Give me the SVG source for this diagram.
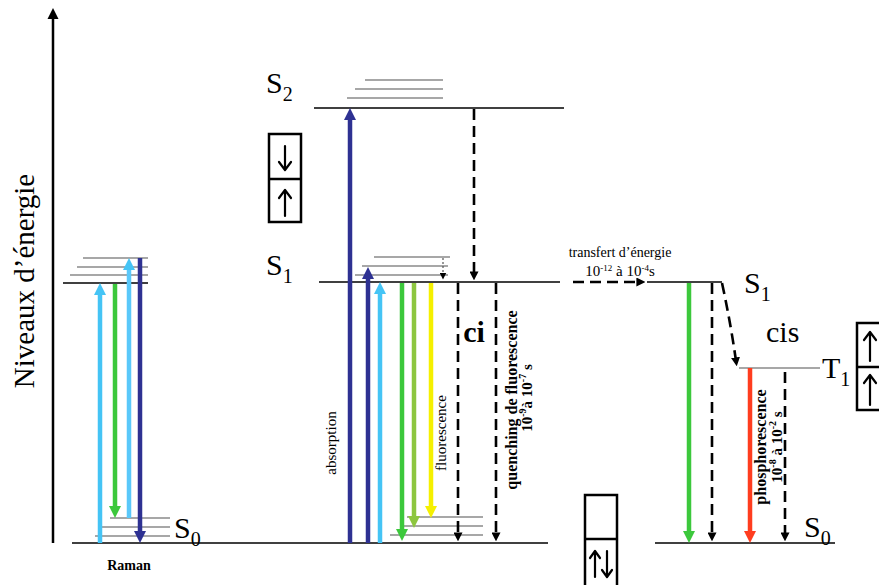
<svg xmlns="http://www.w3.org/2000/svg" width="879" height="585" viewBox="0 0 879 585">
<style>
text{font-family:"Liberation Serif","Times New Roman",serif;fill:#000}
.lvl{stroke:#000;stroke-width:1.6;fill:none}
.vib{stroke:#8a8a8a;stroke-width:1.6;fill:none}
.box{stroke:#000;stroke-width:2.5;fill:#fff}
.spin{stroke:#000;stroke-width:2.2;fill:none;stroke-linecap:round;stroke-linejoin:round}
.big{font-size:30px}
.sub{font-size:20px}
.sm{font-size:15px}
.dash{stroke:#000;stroke-width:2.6;stroke-dasharray:11 6;fill:none}
.col{stroke-width:4.5;fill:none}
</style>
<defs>
<marker id="hDB" viewBox="0 0 12 12" refX="4" refY="6" markerWidth="12" markerHeight="12" markerUnits="userSpaceOnUse" orient="auto"><path d="M0,0 L12,6 L0,12 z" fill="#2e3192"/></marker>
<marker id="hLB" viewBox="0 0 12 12" refX="4" refY="6" markerWidth="12" markerHeight="12" markerUnits="userSpaceOnUse" orient="auto"><path d="M0,0 L12,6 L0,12 z" fill="#45c4f5"/></marker>
<marker id="hG" viewBox="0 0 12 12" refX="4" refY="6" markerWidth="12" markerHeight="12" markerUnits="userSpaceOnUse" orient="auto"><path d="M0,0 L12,6 L0,12 z" fill="#3cc83c"/></marker>
<marker id="hYG" viewBox="0 0 12 12" refX="4" refY="6" markerWidth="12" markerHeight="12" markerUnits="userSpaceOnUse" orient="auto"><path d="M0,0 L12,6 L0,12 z" fill="#8dc63f"/></marker>
<marker id="hY" viewBox="0 0 12 12" refX="4" refY="6" markerWidth="12" markerHeight="12" markerUnits="userSpaceOnUse" orient="auto"><path d="M0,0 L12,6 L0,12 z" fill="#f5f000"/></marker>
<marker id="hR" viewBox="0 0 12 12" refX="4" refY="6" markerWidth="12" markerHeight="12" markerUnits="userSpaceOnUse" orient="auto"><path d="M0,0 L12,6 L0,12 z" fill="#ff3d1f"/></marker>
<marker id="hK" viewBox="0 0 10 10" refX="4" refY="5" markerWidth="9" markerHeight="9" markerUnits="userSpaceOnUse" orient="auto"><path d="M0,0 L10,5 L0,10 z" fill="#000"/></marker>
<marker id="hKs" viewBox="0 0 10 10" refX="5" refY="5" markerWidth="7" markerHeight="7" markerUnits="userSpaceOnUse" orient="auto"><path d="M0,0 L10,5 L0,10 z" fill="#000"/></marker>
</defs>
<rect width="879" height="585" fill="#fff"/>

<g id="axis">
<line x1="53" y1="543" x2="53" y2="16" stroke="#000" stroke-width="2.5"/>
<path d="M53,8 L58.5,19 L47.5,19 z" fill="#000"/>
<text transform="rotate(-90 34 281)" x="34" y="281" text-anchor="middle" style="font-size:29px">Niveaux d’énergie</text>
</g>

<g id="ground-line">
<line class="lvl" x1="72" y1="543" x2="548" y2="543"/>
</g>

<g id="raman-levels">
<line class="lvl" x1="63" y1="283" x2="148" y2="283"/>
<line class="vib" x1="70" y1="275" x2="148" y2="275"/>
<line class="vib" x1="77" y1="267" x2="148" y2="267"/>
<line class="vib" x1="83" y1="258" x2="148" y2="258"/>
<line class="vib" x1="110" y1="518" x2="170" y2="518"/>
<line class="vib" x1="102" y1="527" x2="170" y2="527"/>
<line class="vib" x1="95" y1="536" x2="170" y2="536"/>
<text x="174" y="538" class="big">S<tspan class="sub" dy="8">0</tspan></text>
<text x="129" y="570" text-anchor="middle" style="font-size:14px;font-weight:bold">Raman</text>
</g>

<g id="S2">
<line class="lvl" x1="314" y1="108" x2="564" y2="108"/>
<line class="vib" x1="347" y1="98" x2="443" y2="98"/>
<line class="vib" x1="355" y1="89" x2="443" y2="89"/>
<line class="vib" x1="365" y1="80" x2="443" y2="80"/>
<text x="266" y="93" class="big">S<tspan class="sub" dy="8">2</tspan></text>
</g>

<g id="spin-S2">
<rect class="box" x="269" y="134" width="32" height="88"/>
<line class="box" x1="269" y1="179" x2="301" y2="179"/>
<path class="spin" d="M285,146 V170 M279,162 L285,170 L291,162"/>
<path class="spin" d="M285,216 V190 M279,198 L285,190 L291,198"/>
</g>

<g id="S1">
<line class="lvl" x1="319" y1="282" x2="560" y2="282"/>
<line class="vib" x1="355" y1="275" x2="448" y2="275"/>
<line class="vib" x1="362" y1="266" x2="448" y2="266"/>
<line class="vib" x1="374" y1="257" x2="450" y2="257"/>
<text x="266" y="275" class="big">S<tspan class="sub" dy="8">1</tspan></text>
</g>

<g id="S0-mid">
<line class="vib" x1="407" y1="517" x2="483" y2="517"/>
<line class="vib" x1="400" y1="526" x2="483" y2="526"/>
<line class="vib" x1="390" y1="535" x2="483" y2="535"/>
</g>

<g id="S1-right">
<line class="lvl" x1="647" y1="282" x2="722" y2="282"/>
<text x="744" y="293" class="big">S<tspan class="sub" dy="8">1</tspan></text>
<text x="766" y="342" class="big">cis</text>
</g>

<g id="T1">
<line class="vib" x1="739" y1="368" x2="820" y2="368"/>
<text x="822" y="378" class="big">T<tspan class="sub" dy="8">1</tspan></text>
</g>

<g id="spin-T1">
<rect class="box" x="857" y="323" width="40" height="87"/>
<line class="box" x1="857" y1="367" x2="897" y2="367"/>
<path class="spin" d="M870,361 V332 M864,340 L870,332 L876,340"/>
<path class="spin" d="M870,405 V375 M864,383 L870,375 L876,383"/>
</g>

<g id="S0-right">
<line class="lvl" x1="655" y1="543" x2="835" y2="543"/>
<text x="804" y="537" class="big">S<tspan class="sub" dy="8">0</tspan></text>
</g>

<g id="spin-S0">
<rect class="box" x="585" y="495" width="32" height="95"/>
<line class="box" x1="585" y1="539" x2="617" y2="539"/>
<path class="spin" d="M595,577 V551 M590,558 L595,551 L600,558"/>
<path class="spin" d="M607,551 V577 M602,570 L607,577 L612,570"/>
</g>

<g id="labels">
<text x="474" y="342" style="font-size:30px;font-weight:bold" text-anchor="middle">ci</text>
<text transform="rotate(-90 336 443)" x="336" y="443" text-anchor="middle" class="sm">absorption</text>
<text transform="rotate(-90 446 433)" x="446" y="433" text-anchor="middle" class="sm">fluorescence</text>
<text transform="rotate(-90 517 400)" x="517" y="400" text-anchor="middle" style="font-size:16px;font-weight:bold">quenching de fluorescence</text>
<text transform="rotate(-90 532 398)" x="532" y="398" text-anchor="middle" style="font-size:15px;font-weight:bold">10<tspan dy="-6" style="font-size:10px">-9</tspan><tspan dy="6">à 10</tspan><tspan dy="-6" style="font-size:10px">-7</tspan><tspan dy="6"> s</tspan></text>
<text transform="rotate(-90 766 447)" x="766" y="447" text-anchor="middle" style="font-size:16px;font-weight:bold">phosphorescence</text>
<text transform="rotate(-90 782 447)" x="782" y="447" text-anchor="middle" style="font-size:15px;font-weight:bold">10<tspan dy="-6" style="font-size:10px">-8</tspan><tspan dy="6"> à 10</tspan><tspan dy="-6" style="font-size:10px">-2</tspan><tspan dy="6"> s</tspan></text>
<text x="620" y="257" text-anchor="middle" style="font-size:14px">transfert d’énergie</text>
<text x="620" y="276" text-anchor="middle" style="font-size:15px">10<tspan dy="-5" style="font-size:9px">-12</tspan><tspan dy="5"> à 10</tspan><tspan dy="-5" style="font-size:9px">-4</tspan><tspan dy="5">s</tspan></text>
</g>

<g id="connectors">
<line class="col" stroke="#45c4f5" x1="100" y1="543" x2="100" y2="291" marker-end="url(#hLB)"/>
<line class="col" stroke="#3cc83c" x1="115" y1="284" x2="115" y2="510" marker-end="url(#hG)"/>
<line class="col" stroke="#5ac8fa" x1="129" y1="518" x2="129" y2="266" marker-end="url(#hLB)"/>
<line class="col" stroke="#2e3192" x1="140" y1="258" x2="140" y2="535" marker-end="url(#hDB)"/>
<line class="col" stroke="#2e3192" x1="350" y1="543" x2="350" y2="116" marker-end="url(#hDB)"/>
<line class="col" stroke="#2e3192" x1="368" y1="543" x2="368" y2="275" marker-end="url(#hDB)"/>
<line class="col" stroke="#45c4f5" x1="380" y1="543" x2="380" y2="290" marker-end="url(#hLB)"/>
<line class="col" stroke="#3cc83c" x1="402" y1="283" x2="402" y2="533" marker-end="url(#hG)"/>
<line class="col" stroke="#8dc63f" x1="414" y1="283" x2="414" y2="520" marker-end="url(#hYG)"/>
<line class="col" stroke="#f5f000" x1="431" y1="283" x2="431" y2="510" marker-end="url(#hY)"/>
<line stroke="#555" stroke-width="1.2" stroke-dasharray="2 2" x1="443" y1="258" x2="443" y2="276" marker-end="url(#hKs)"/>
<line class="dash" x1="474" y1="109" x2="474" y2="275" marker-end="url(#hK)"/>
<line class="dash" x1="458" y1="283" x2="458" y2="536" marker-end="url(#hK)"/>
<line class="dash" x1="496" y1="283" x2="496" y2="536" marker-end="url(#hK)"/>
<line class="dash" x1="573" y1="282" x2="640" y2="282" marker-end="url(#hK)"/>
<line class="col" stroke="#3cc83c" x1="689" y1="283" x2="689" y2="535" marker-end="url(#hG)"/>
<line class="dash" x1="712" y1="283" x2="712" y2="536" marker-end="url(#hK)"/>
<path class="dash" d="M722,283 Q731,325 736,361" marker-end="url(#hK)"/>
<line class="col" stroke="#ff3d1f" x1="750" y1="368" x2="750" y2="535" marker-end="url(#hR)"/>
<line class="dash" x1="785" y1="372" x2="785" y2="536" marker-end="url(#hK)"/>
</g>
</svg>
